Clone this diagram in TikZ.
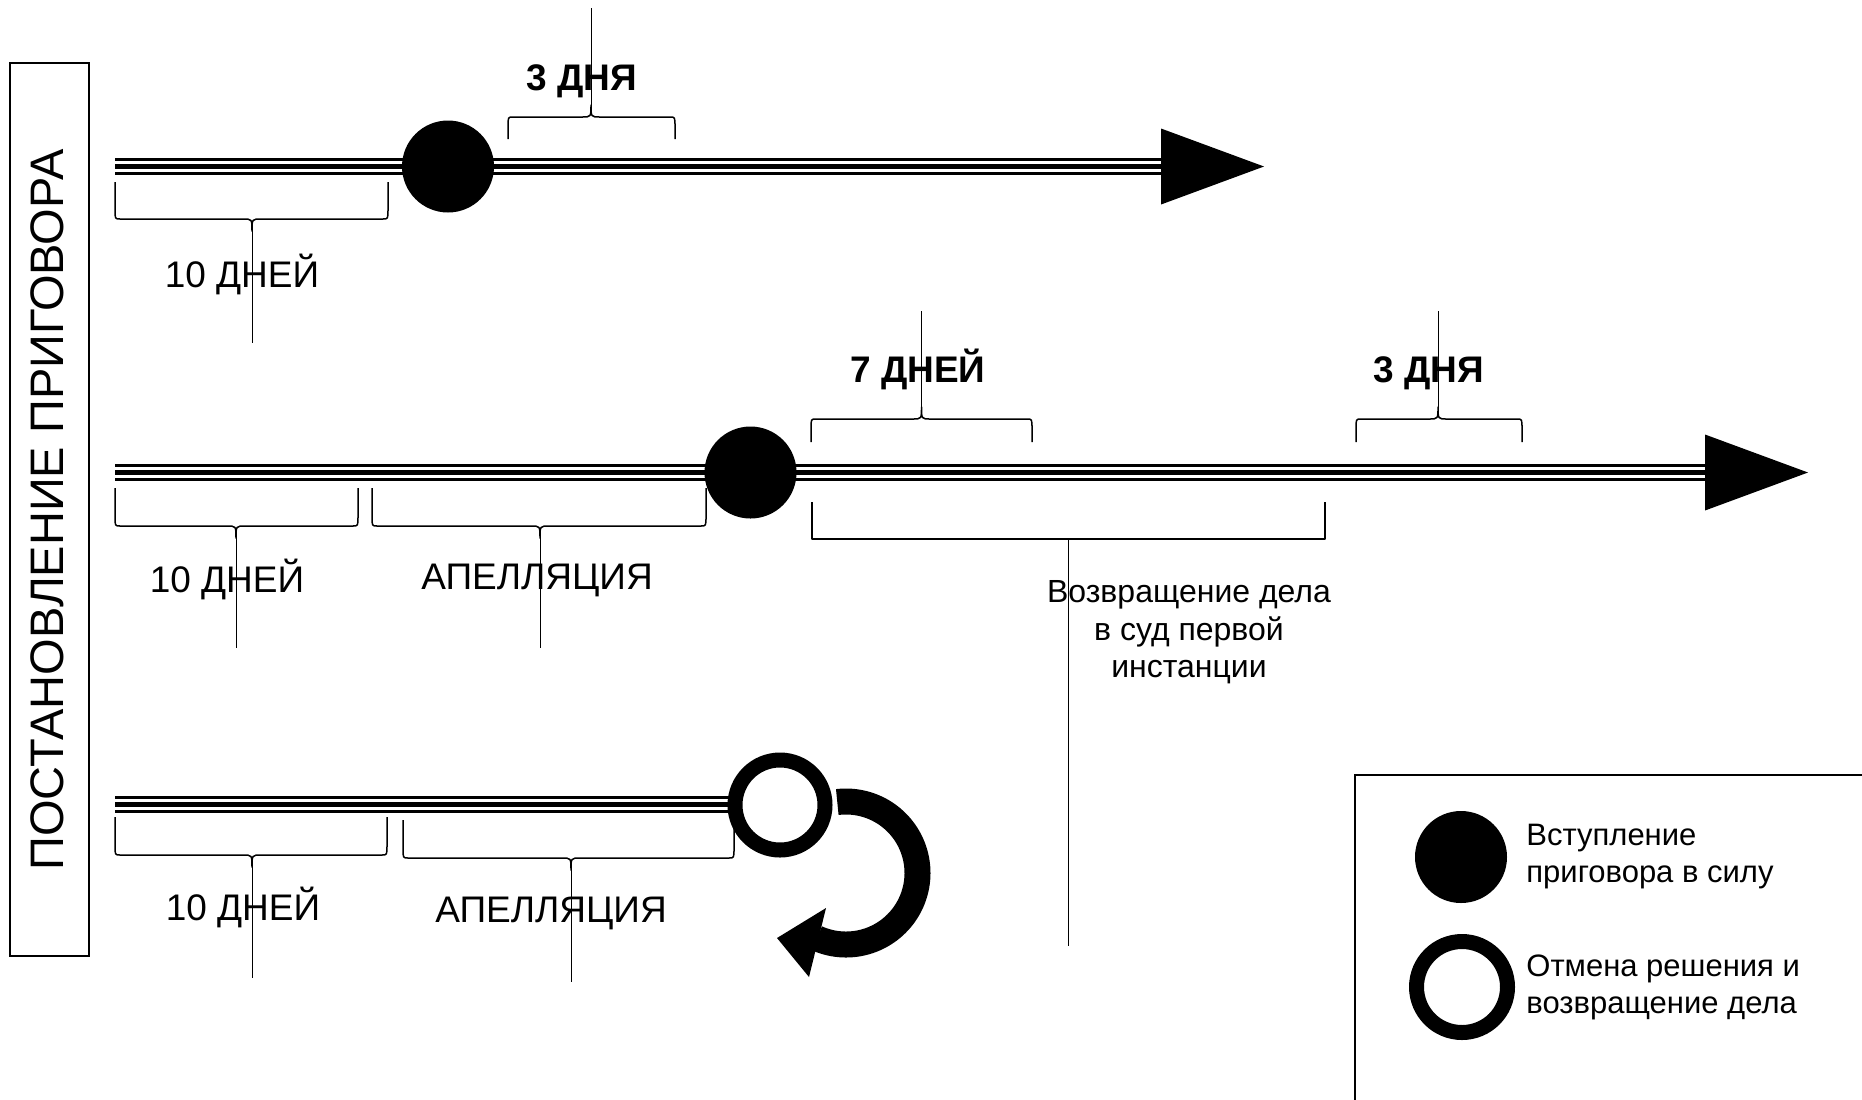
\documentclass[tikz,border=0pt]{standalone}
\usepackage{fontspec}
\setmainfont{Liberation Sans}
\newcommand\brc[7]{% xl, xr, xm, y0 (ends), y1 (bar), dir, pointer end y
  \draw[br] (#1,#4) -- (#1,{#5-10*(#6)}) .. controls (#1,#5) .. ({#1+5},#5) -- ({#3-9},#5)
    .. controls (#3,#5) .. (#3,{#5+12*(#6)}) .. controls (#3,#5) .. ({#3+9},#5)
    -- ({#2-5},#5) .. controls (#2,#5) .. (#2,{#5-10*(#6)}) -- (#2,#4);
  \draw[ptr] (#3,{#5+12*(#6)}) -- (#3,#7);}
\newcommand\tripl[2]{% from, to (named)
  \draw[tl] ([yshift=3.4pt]#1) -- ([yshift=3.4pt]#2);
  \draw[tlm] (#1) -- (#2);
  \draw[tl] ([yshift=-3.4pt]#1) -- ([yshift=-3.4pt]#2);}
\begin{document}
\begin{tikzpicture}[x=0.5pt,y=-0.5pt,
  tl/.style={line width=1.35pt},
  tlm/.style={line width=2.65pt},
  br/.style={line width=0.75pt, line join=round},
  ptr/.style={line width=0.5pt},
  lbl/.style={font=\fontsize{18.5}{22}\selectfont, inner sep=0pt, anchor=base},
  blbl/.style={font=\fontsize{18.5}{22}\selectfont\bfseries, inner sep=0pt, anchor=base},
  small/.style={font=\fontsize{16}{19}\selectfont, inner sep=0pt, anchor=base},
  leg/.style={font=\fontsize{15.5}{19}\selectfont, inner sep=0pt, anchor=base west},
  dot/.style={circle, fill=black, minimum size=46pt, inner sep=0pt},
  ring/.style={circle, draw=black, fill=white, line width=7.5pt, minimum size=45pt, inner sep=0pt}
]
\useasboundingbox (0,0) rectangle (1862,1099);
\clip (0,0) rectangle (1862,1099);

% title
\draw[line width=1pt] (10,63) rectangle (89,956);
\node[font=\fontsize{23.5}{28}\selectfont, inner sep=0pt, anchor=base, rotate=90] (title) at (63,510) {ПОСТАНОВЛЕНИЕ ПРИГОВОРА};

% ---------- row 1 ----------
\coordinate (s1) at (115,166.5);
\coordinate (a1) at (1161,166.5);
\coordinate (t1) at (1264,166.5);
\tripl{s1}{a1}
\fill ([yshift=19pt]a1) -- (t1) -- ([yshift=-19pt]a1) -- cycle;
\node[dot] (d1) at (448,166.5) {};
\brc{115}{388}{252}{182}{219}{1}{343}
\brc{508}{675}{591}{139}{117}{-1}{8}
\node[lbl] (r1a) at (242,287) {10 ДНЕЙ};
\node[blbl] (r1b) at (582,90) {3 ДНЯ};

% ---------- row 2 ----------
\coordinate (s2) at (115,472.5);
\coordinate (a2) at (1705,472.5);
\coordinate (t2) at (1808,472.5);
\tripl{s2}{a2}
\fill ([yshift=19pt]a2) -- (t2) -- ([yshift=-19pt]a2) -- cycle;
\node[dot] (d2) at (750.5,472.5) {};
\brc{115}{358}{236}{488}{526}{1}{648}
\brc{372}{706}{540}{488}{526}{1}{648}
\brc{811}{1032}{921.5}{442}{419}{-1}{311}
\brc{1356}{1522}{1438}{442}{419}{-1}{311}
\draw[br] (812,502) -- (812,539) -- (1325,539) -- (1325,502);
\draw[ptr] (1068.5,539) -- (1068.5,946);
\node[lbl] (r2a) at (227,592) {10 ДНЕЙ};
\node[lbl] (r2b) at (537,589) {АПЕЛЛЯЦИЯ};
\node[blbl] (r2c) at (918,382) {7 ДНЕЙ};
\node[blbl] (r2d) at (1429,382) {3 ДНЯ};
\node[small] (v1) at (1189,602) {Возвращение дела};
\node[small] (v2) at (1189,640) {в суд первой};
\node[small] (v3) at (1189,677) {инстанции};

% ---------- row 3 ----------
\coordinate (s3) at (115,804.5);
\coordinate (e3) at (760,804.5);
\tripl{s3}{e3}
\draw[line width=13pt] plot[domain=-97:114, samples=90] ({846+71.5*cos(\x)},{873+71.5*sin(\x)});
\fill (826,908) -- (777,938) -- (809,977) -- cycle;
\node[ring] (o3) at (780,805) {};
\brc{115}{387}{252}{817}{855}{1}{978}
\brc{403}{734}{571}{820}{858}{1}{982}
\node[lbl] (r3a) at (243,920) {10 ДНЕЙ};
\node[lbl] (r3b) at (551,922) {АПЕЛЛЯЦИЯ};

% ---------- legend ----------
\draw[line width=1pt] (1355,1140) -- (1355,775) -- (1900,775);
\node[dot] (ld) at (1461,857) {};
\node[ring, minimum size=45.5pt] (lr) at (1462,987) {};
\node[leg] (l1) at (1526,845) {Вступление};
\node[leg] (l2) at (1526,882) {приговора в силу};
\node[leg] (l3) at (1526,976) {Отмена решения и};
\node[leg] (l4) at (1526,1013) {возвращение дела};
\end{tikzpicture}
\end{document}
